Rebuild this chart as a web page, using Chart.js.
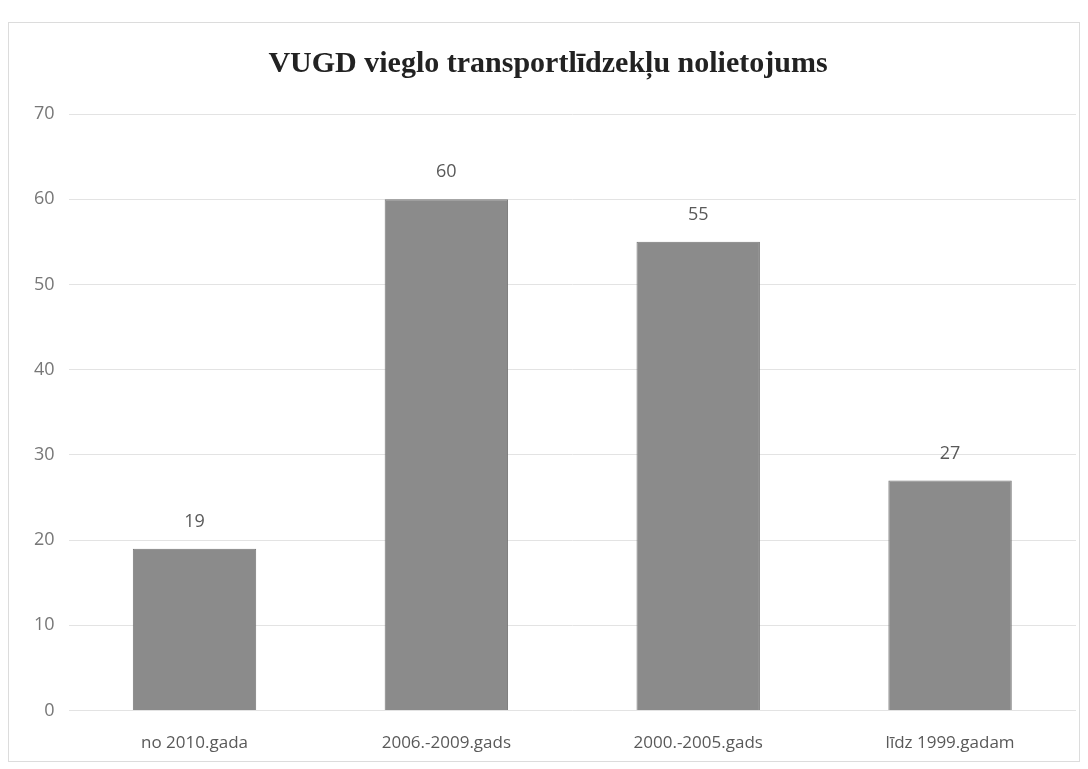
<!DOCTYPE html>
<html>
<head>
<meta charset="utf-8">
<script src="https://cdn.jsdelivr.net/npm/chart.js@4/dist/chart.umd.min.js"></script>
<style>
  html, body { margin: 0; padding: 0; background: #fff; overflow: hidden; }
  #frame { position: absolute; left: 8px; top: 22px; width: 1072px; height: 740px; border: 1px solid #dcdcdc; box-sizing: border-box; }
  #wrap { position: absolute; left: 0; top: 0; width: 1088px; height: 769px; }
  canvas { display: block; }
</style>
</head>
<body>
<div id="frame"></div>
<div id="wrap"><canvas id="chart"></canvas></div>
<script>
const categories = ['no 2010.gada', '2006.-2009.gads', '2000.-2005.gads', 'līdz 1999.gadam'];
const counts = [19, 60, 55, 27];
const chartTitle = 'VUGD vieglo transportlīdzekļu nolietojums';

// draws the value above each bar
const valueLabels = {
    id: 'valueLabels',
    afterDatasetsDraw(chart) {
        const ctx = chart.ctx;
        ctx.save();
        ctx.font = '18px "Open Sans", sans-serif';
        ctx.fillStyle = '#595959';
        ctx.textAlign = 'center';
        ctx.textBaseline = 'middle';
        chart.getDatasetMeta(0).data.forEach(function (bar, i) {
            ctx.fillText(counts[i], bar.x, bar.y - 27);
        });
        ctx.restore();
    }
};

const ctx = document.getElementById('chart').getContext('2d');
new Chart(ctx, {
    type: 'bar',
    data: {
        labels: categories,
        datasets: [{
            data: counts,
            backgroundColor: '#8b8b8b',
            borderColor: '#777',
            borderWidth: 1,
            categoryPercentage: 1,
            barPercentage: 0.49
        }]
    },
    options: {
        responsive: true,
        maintainAspectRatio: false,
        animation: false,
        layout: { padding: { left: 20, right: 12, top: 34, bottom: 2 } },
        plugins: {
            legend: { display: false },
            tooltip: { enabled: false },
            title: {
                display: true,
                text: chartTitle,
                color: '#222',
                font: { family: '"Liberation Serif", serif', size: 30, weight: 'bold' },
                padding: { top: 12, bottom: 32 }
            }
        },
        scales: {
            x: {
                grid: { display: false },
                border: { display: false },
                ticks: {
                    color: '#595959',
                    font: { family: '"Open Sans", sans-serif', size: 17 },
                    padding: 14
                }
            },
            y: {
                min: 0,
                max: 70,
                ticks: {
                    stepSize: 10,
                    color: '#777',
                    font: { family: '"Open Sans", sans-serif', size: 18 },
                    padding: 14
                },
                grid: { color: '#e3e3e3', drawTicks: false },
                border: { display: false }
            }
        }
    },
    plugins: [valueLabels]
});
</script>
</body>
</html>
